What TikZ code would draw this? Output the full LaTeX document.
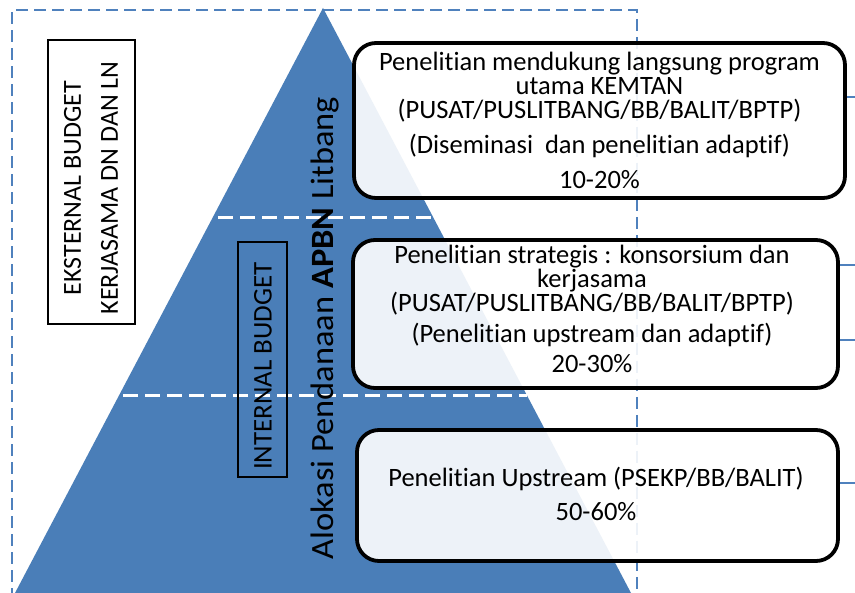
\documentclass[tikz,border=0pt]{standalone}
\usepackage{fontspec}
\setmainfont{Carlito}[Ligatures=NoCommon]
\definecolor{triblue}{HTML}{4A7EB8}
\definecolor{lineblue}{HTML}{4F81BD}
\begin{document}
\begin{tikzpicture}[x=1pt,y=-1pt,
  boxtxt/.style={font=\fontsize{26.5}{24}\selectfont},
  levelbox/.style={draw=black, line width=3.8pt, rounded corners=22pt, fill=white, fill opacity=0.9, text opacity=1, align=center, boxtxt, inner sep=0pt},
  sidebox/.style={draw=black, line width=1.8pt, inner sep=0pt},
  sidetxt/.style={rotate=90, align=center, font=\fontsize{26}{37}\selectfont},
  whitedash/.style={draw=white, line width=3pt, dash pattern=on 15pt off 7pt},
  bluedash/.style={draw=lineblue, line width=2pt, dash pattern=on 12pt off 6pt},
  stub/.style={draw=lineblue, line width=2pt}]
\useasboundingbox (0,0) rectangle (855,593);
\fill[white] (0,0) rectangle (855,593);
% dashed outer frame
\draw[bluedash] (12,600) -- (12,10) -- (637,10) -- (637,600);
% pyramid
\fill[triblue] (323,8) -- (631,593) -- (15,593) -- cycle;
% level separators
\coordinate (s1a) at (218,218); \coordinate (s1b) at (437,218);
\coordinate (s2a) at (123,396); \coordinate (s2b) at (527,396);
\draw[whitedash] (s1a) -- (s1b);
\draw[whitedash] (s2a) -- (s2b);
% level boxes
\node[levelbox, minimum width=491pt, minimum height=155pt] (box1) at (599.5,120.5) {};
\node[boxtxt, align=center] (t1) at (599.5,120) {Penelitian mendukung langsung program\\utama KEMTAN\\(PUSAT/PUSLITBANG/BB/BALIT/BPTP)\\[11pt](Diseminasi\ \ dan penelitian adaptif)\\[11pt]10-20\%};
\node[levelbox, minimum width=485pt, minimum height=148pt] (box2) at (595.5,314) {};
\node[boxtxt, align=center] (t2) at (592,309) {Penelitian strategis : konsorsium dan\\kerjasama\\(PUSAT/PUSLITBANG/BB/BALIT/BPTP)\\[7pt](Penelitian upstream dan adaptif)\\[6pt]20-30\%};
\node[levelbox, minimum width=481pt, minimum height=131pt] (box3) at (597.5,495.5) {};
\node[boxtxt, align=center] (t3) at (596,494) {Penelitian Upstream (PSEKP/BB/BALIT)\\[10pt]50-60\%};
% stubs to the right
\coordinate (r1) at (855,97);
\coordinate (r2) at (855,265);
\coordinate (r3) at (855,340);
\coordinate (r4) at (855,483);
\draw[stub] (r1 -| box1.east) -- (r1);
\draw[stub] (r2 -| box2.east) -- (r2);
\draw[stub] (r3 -| box2.east) -- (r3);
\draw[stub] (r4 -| box3.east) -- (r4);
% external budget
\node[sidebox, fill=white, minimum width=87pt, minimum height=284pt] (ext) at (91.5,182) {};
\node[sidetxt] (extt) at (91,188) {EKSTERNAL BUDGET\\KERJASAMA DN DAN LN};
% internal budget
\node[sidebox, minimum width=49pt, minimum height=235pt] (int) at (262.5,359.5) {};
\node[sidetxt, font=\fontsize{27}{30}\selectfont] (intt) at (263,366) {INTERNAL BUDGET};
% main vertical label
\node[rotate=90, anchor=base, font=\fontsize{32.5}{33}\selectfont] (alok) at (333,328) {\scalebox{1.06}[1]{Alokasi Pendanaan \textbf{APBN} Litbang}};
\end{tikzpicture}
\end{document}
